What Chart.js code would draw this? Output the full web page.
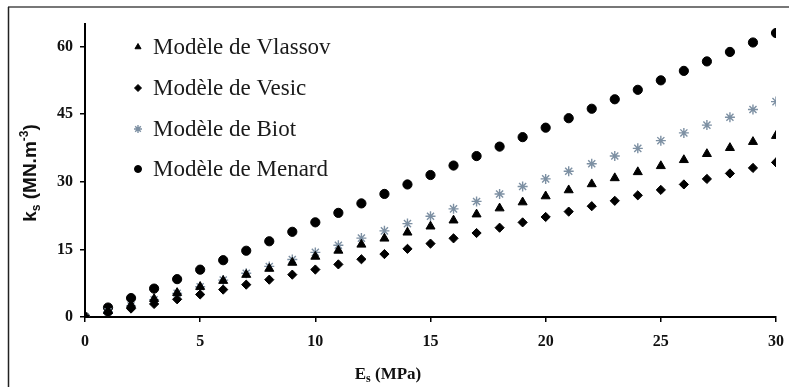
<!DOCTYPE html>
<html>
<head>
<meta charset="utf-8">
<script src="https://cdn.jsdelivr.net/npm/chart.js@4/dist/chart.umd.min.js"></script>
<style>
body { margin: 0; background: #fff; }
</style>
</head>
<body>
<canvas id="ksChart" width="789" height="387"></canvas>
<script>
// E_s (MPa)
const es = [0, 1, 2, 3, 4, 5, 6, 7, 8, 9, 10, 11, 12, 13, 14, 15, 16, 17, 18, 19, 20, 21, 22, 23, 24, 25, 26, 27, 28, 29, 30];

// k_s (MN.m-3)
const vlassov = [0, 1.34, 2.68, 4.02, 5.36, 6.7, 8.04, 9.38, 10.72, 12.06, 13.4, 14.74, 16.08, 17.42, 18.76, 20.1,
  21.44, 22.78, 24.12, 25.46, 26.8, 28.14, 29.48, 30.82, 32.16, 33.5, 34.84, 36.18, 37.52, 38.86, 40.2];
const vesic = [0, 0.89, 1.87, 2.89, 3.93, 5.0, 6.08, 7.18, 8.28, 9.4, 10.53, 11.67, 12.81, 13.96, 15.12, 16.28,
  17.45, 18.63, 19.81, 20.99, 22.19, 23.38, 24.58, 25.78, 26.99, 28.2, 29.41, 30.63, 31.85, 33.07, 34.3];
const biot = [0, 1.15, 2.46, 3.83, 5.25, 6.7, 8.19, 9.69, 11.22, 12.77, 14.33, 15.91, 17.5, 19.11, 20.72, 22.35,
  23.99, 25.64, 27.3, 28.96, 30.64, 32.32, 34.01, 35.71, 37.41, 39.12, 40.84, 42.57, 44.3, 46.04, 47.78];
const menard = [0, 2.1, 4.2, 6.3, 8.4, 10.5, 12.6, 14.7, 16.8, 18.9, 21, 23.1, 25.2, 27.3, 29.4, 31.5,
  33.6, 35.7, 37.8, 39.9, 42, 44.1, 46.2, 48.3, 50.4, 52.5, 54.6, 56.7, 58.8, 60.9, 63];

const seriesNames = ["Modèle de Vlassov", "Modèle de Vesic", "Modèle de Biot", "Modèle de Menard"];
const xTicks = [0, 5, 10, 15, 20, 25, 30];
const yTicks = [0, 15, 30, 45, 60];

function pts(ys) {
  return es.map(function (x, i) { return { x: x, y: ys[i] }; });
}

const serif = "'Liberation Serif', 'Times New Roman', serif";
const sans = "'Liberation Sans', Arial, sans-serif";

// draw runs of text (for sub / superscripts)
function runWidth(ctx, parts) {
  let w = 0;
  parts.forEach(function (p) { ctx.font = p.f; w += ctx.measureText(p.t).width; });
  return w;
}
function drawRuns(ctx, parts, x, y) {
  parts.forEach(function (p) {
    ctx.font = p.f;
    ctx.fillText(p.t, x, y + (p.dy || 0));
    x += ctx.measureText(p.t).width;
  });
}

const decor = {
  id: "decor",
  beforeDraw: function (chart) {
    const ctx = chart.ctx;
    ctx.save();
    ctx.fillStyle = "#fff";
    ctx.fillRect(0, 0, chart.width, chart.height);
    ctx.strokeStyle = "#777";
    ctx.lineWidth = 2;
    ctx.beginPath();
    ctx.moveTo(8, 7);
    ctx.lineTo(chart.width, 7);
    ctx.stroke();
    ctx.strokeStyle = "#222";
    ctx.lineWidth = 1.5;
    ctx.beginPath();
    ctx.moveTo(8.5, 7);
    ctx.lineTo(8.5, chart.height);
    ctx.stroke();
    ctx.restore();
  },
  afterDraw: function (chart) {
    const ctx = chart.ctx;
    ctx.save();
    ctx.fillStyle = "#111";
    ctx.textAlign = "left";
    ctx.textBaseline = "alphabetic";

    // x title
    const xt = [
      { t: "E", f: "bold 17px " + serif },
      { t: "s", f: "bold 12px " + serif, dy: 3 },
      { t: " (MPa)", f: "bold 17px " + serif }
    ];
    drawRuns(ctx, xt, 388 - runWidth(ctx, xt) / 2, 379);

    // y title
    const yt = [
      { t: "k", f: "bold 19px " + sans },
      { t: "s", f: "bold 12px " + sans, dy: 4 },
      { t: " (MN.m", f: "bold 19px " + sans },
      { t: "-3", f: "bold 12px " + sans, dy: -8 },
      { t: ")", f: "bold 19px " + sans }
    ];
    ctx.translate(29, 173);
    ctx.rotate(-Math.PI / 2);
    drawRuns(ctx, yt, -runWidth(ctx, yt) / 2, 7);
    ctx.setTransform(1, 0, 0, 1, 0, 0);

    // legend inside the plot
    const rows = [47, 88, 129, 169];
    chart.data.datasets.forEach(function (ds, i) {
      ctx.fillStyle = ds.backgroundColor;
      ctx.strokeStyle = ds.borderColor;
      ctx.lineWidth = ds.borderWidth;
      Chart.helpers.drawPoint(ctx, {
        pointStyle: ds.pointStyle,
        radius: ds.pointStyle === "star" ? 4 : 3.5,
        borderWidth: ds.borderWidth,
        rotation: 0
      }, 138, rows[i]);
      ctx.fillStyle = "#1a1a1a";
      ctx.font = "23px " + serif;
      ctx.textBaseline = "middle";
      ctx.fillText(ds.label, 153, rows[i] + 1);
    });
    ctx.restore();
  }
};

new Chart("ksChart", {
  type: "scatter",
  data: {
    datasets: [
      { label: seriesNames[0], data: pts(vlassov), pointStyle: "triangle", pointRadius: 5.2,
        backgroundColor: "#000", borderColor: "#000", borderWidth: 1 },
      { label: seriesNames[1], data: pts(vesic), pointStyle: "rectRot", pointRadius: 4.6,
        backgroundColor: "#000", borderColor: "#000", borderWidth: 1 },
      { label: seriesNames[2], data: pts(biot), pointStyle: "star", pointRadius: 5,
        backgroundColor: "#7d90a3", borderColor: "#7d90a3", borderWidth: 1.4 },
      { label: seriesNames[3], data: pts(menard), pointStyle: "circle", pointRadius: 4.6,
        backgroundColor: "#000", borderColor: "#000", borderWidth: 1 }
    ]
  },
  options: {
    responsive: false,
    animation: false,
    devicePixelRatio: 1,
    layout: { padding: { left: 0, right: 13, top: 24, bottom: 0 } },
    plugins: {
      legend: { display: false },
      tooltip: { enabled: false }
    },
    scales: {
      x: {
        type: "linear",
        min: 0,
        max: 30,
        afterBuildTicks: function (s) { s.ticks = xTicks.map(function (v) { return { value: v }; }); },
        afterFit: function (s) { s.height = 70; s.paddingLeft = 0; s.paddingRight = 0; },
        grid: { display: true, drawOnChartArea: false, tickLength: 5, color: "#000", lineWidth: 1.5 },
        border: { display: true, color: "#000", width: 2 },
        ticks: { color: "#111", padding: 10, maxRotation: 0, font: { family: serif, size: 16, weight: "bold" } }
      },
      y: {
        type: "linear",
        min: 0,
        max: 65,
        afterBuildTicks: function (s) { s.ticks = yTicks.map(function (v) { return { value: v }; }); },
        afterFit: function (s) { s.width = 85; s.paddingTop = 0; s.paddingBottom = 0; },
        grid: { display: true, drawOnChartArea: false, tickLength: 5, color: "#000", lineWidth: 1.5 },
        border: { display: true, color: "#000", width: 2 },
        ticks: { color: "#111", padding: 7, font: { family: serif, size: 16, weight: "bold" } }
      }
    }
  },
  plugins: [decor]
});
</script>
</body>
</html>
